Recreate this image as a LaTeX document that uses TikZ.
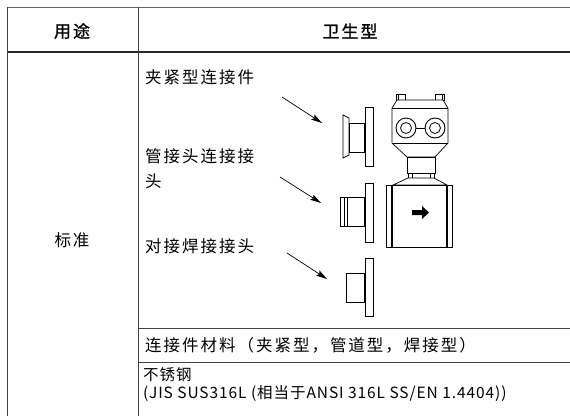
\documentclass[tikz,border=0pt]{standalone}
\usepackage{fontspec}
\setmainfont{Noto Sans CJK SC}
\newfontfamily\cjk[LetterSpace=12]{Noto Sans CJK SC}
\newfontfamily\cjkh[LetterSpace=12,FakeBold=1.2]{Noto Sans CJK SC}
\newfontfamily\cjksm[LetterSpace=6]{Noto Sans CJK SC}
\usetikzlibrary{arrows.meta}
\begin{document}
\begin{tikzpicture}[x=1pt,y=-1pt,
  gridline/.style={draw=black!75, line width=0.9pt},
  headline/.style={draw=black!85, line width=2pt},
  part/.style={draw=black, line width=0.7pt, fill=white},
  thickpart/.style={draw=black, line width=1.3pt},
  lbl/.style={anchor=west, inner sep=0pt, font=\cjk\fontsize{16.5}{19}\selectfont},
  smlbl/.style={anchor=west, inner sep=0pt, font=\cjksm\fontsize{15.5}{18}\selectfont},
  hdr/.style={inner sep=0pt, font=\cjkh\fontsize{17}{19}\selectfont},
  ptr/.style={-{Stealth[length=11pt,width=6pt,inset=2pt]}, line width=0.7pt}]
\useasboundingbox (0,0) rectangle (570,416);

% ---- table grid ----
\draw[draw=black!60, line width=1pt] (7,7.5) -- (570,7.5);
\draw[headline] (7,52) -- (570,52);
\draw[gridline] (7,7) -- (7,416);
\draw[gridline] (138,7) -- (138,416);
\draw[gridline] (138,328) -- (570,328);
\draw[gridline] (138,362) -- (570,362);

% ---- header ----
\node[hdr] (h1) at (72,31) {用途};
\node[hdr] (h2) at (350,31) {卫生型};
\node[lbl, anchor=center] (std) at (72,240) {标准};

% ---- labels ----
\node[lbl] (l1) at (145,77) {夹紧型连接件};
\node[lbl] (l2) at (145,156) {管接头连接接};
\node[lbl] (l2b) at (145,181) {头};
\node[lbl] (l3) at (145,246) {对接焊接接头};
\node[lbl] (mat) at (145,345) {连接件材料（夹紧型，管道型，焊接型）};
\node[smlbl] (ss) at (143,375) {不锈钢};
\node[smlbl] (jis) at (143,393) {(JIS SUS316L (相当于ANSI 316L SS/EN 1.4404))};

% ---- fitting 1 : clamp ----
\draw[part] (343,115) -- (349,118) -- (349,155) -- (343,158) -- cycle;
\draw[part] (349,123) rectangle (365,152);
\draw[part] (365,107) rectangle (373,166);
\draw[thickpart] (365,123) -- (365,152);
\coordinate (f1) at (322,123);

% ---- fitting 2 : union ----
\draw[part] (340,197) rectangle (365,226);
\draw[line width=0.6pt] (344,197) -- (344,226);
\draw[line width=0.6pt] (347,197) -- (347,226);
\draw[part] (365,183) rectangle (373,242);
\draw[thickpart] (365,197) -- (365,226);
\coordinate (f2) at (321,203);

% ---- fitting 3 : butt weld ----
\draw[part] (346,273) rectangle (365,302);
\draw[part] (365,258) rectangle (373,316);
\draw[thickpart] (365,273) -- (365,302);
\coordinate (f3) at (327,279);

% ---- arrows ----
\coordinate (s1) at (282,97);
\coordinate (s2) at (280,177);
\coordinate (s3) at (287,253);
\draw[ptr] (s1) -- (f1);
\draw[ptr] (s2) -- (f2);
\draw[ptr] (s3) -- (f3);

% ---- flowmeter ----
% tabs
\draw[part] (396,94) rectangle (405,100);
\draw[part] (435,94) rectangle (444,100);
\draw[line width=0.6pt] (398,94) -- (398,100);
\draw[line width=0.6pt] (442,94) -- (442,100);
% head
\draw[part] (397,100) -- (443,100) -- (448,108) -- (448,143) -- (435,157)
  -- (407,157) -- (392,143) -- (392,108) -- cycle;
\draw[line width=0.7pt] (392,108) -- (448,108);
\draw[line width=0.7pt] (392,143) -- (448,143);
% display windows
\draw[line width=0.9pt] (406,128) circle (10);
\draw[line width=0.8pt] (406,128) circle (5.5);
\draw[line width=0.9pt] (435,128) circle (10);
\draw[line width=0.8pt] (435,128) circle (5.5);
\draw[line width=0.8pt] (416,128) -- (425,128);
% neck
\draw[part] (407,157) rectangle (435,173);
\draw[part] (408,173) rectangle (434,178);
\draw[line width=0.6pt] (412,173) -- (412,178);
\draw[line width=0.6pt] (430,173) -- (430,178);
% transition
\draw[part] (408,178) -- (434,178) -- (447,185) -- (393,185) -- cycle;
% flow tube
\draw[part] (386,185) rectangle (452,247);
\draw[line width=1.4pt] (392,185) -- (392,247);
\draw[line width=1.4pt] (447,185) -- (447,247);
% flow arrow
\fill[black] (412,210) -- (422,210) -- (422,206) -- (429,212.5) -- (422,219) -- (422,215) -- (412,215) -- cycle;
\end{tikzpicture}
\end{document}
